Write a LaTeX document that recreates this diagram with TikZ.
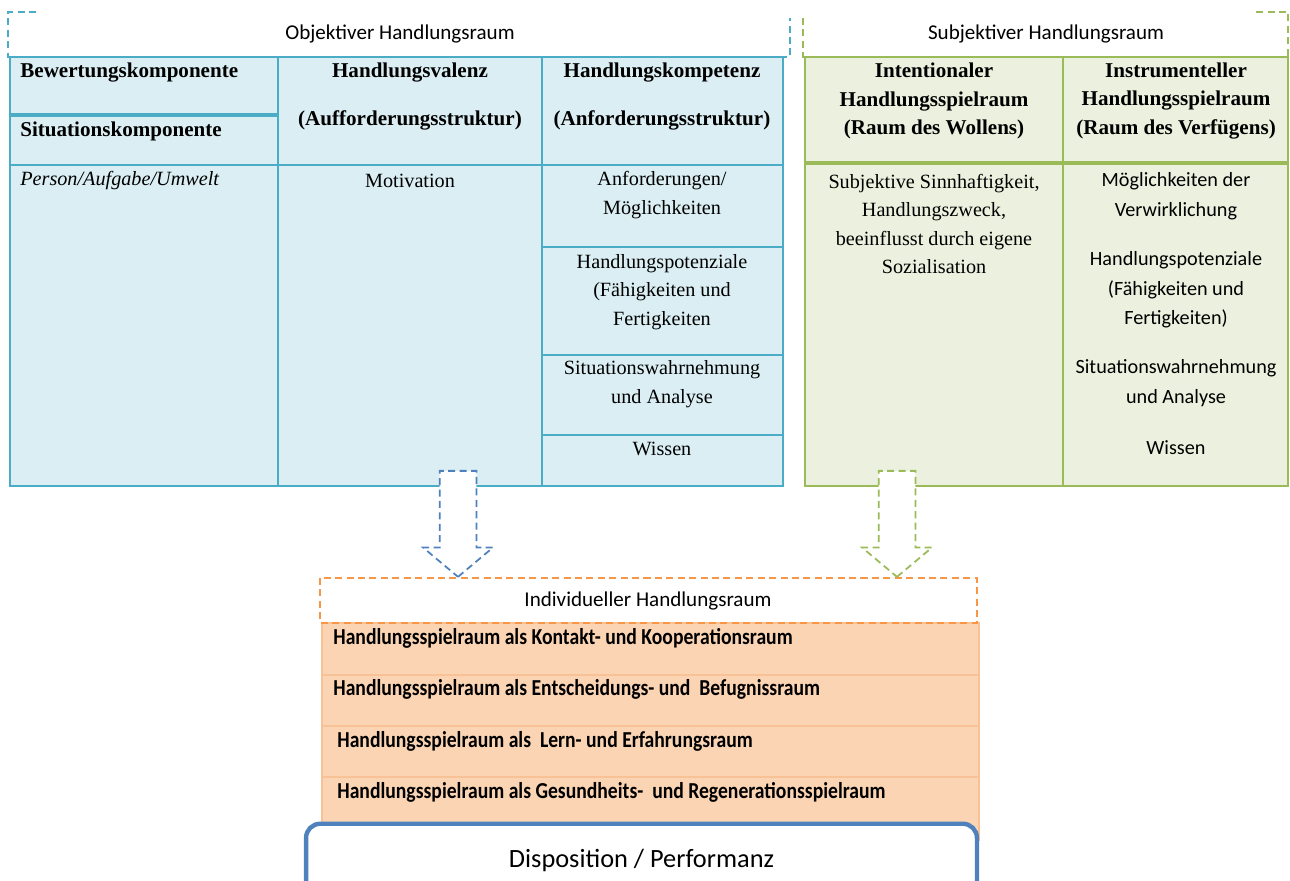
\documentclass[tikz,border=0pt]{standalone}
\usepackage{fontspec}
\setmainfont{Liberation Serif}
\newfontfamily\calfont{Carlito}
\newfontfamily\calcond[FakeStretch=0.86]{Carlito}
\usetikzlibrary{shapes.arrows}
\definecolor{objfill}{HTML}{DAEEF3}
\definecolor{objline}{HTML}{4BACC6}
\definecolor{subjfill}{HTML}{EBF1DE}
\definecolor{subjline}{HTML}{9BBB59}
\definecolor{indfill}{HTML}{FBD4B4}
\definecolor{indline}{HTML}{F79646}
\definecolor{indsep}{HTML}{F9C196}
\definecolor{arrblue}{HTML}{4F81BD}
\tikzset{
    %Define style for dashed title boxes
    dashhead/.style={
           line width=1pt,
           dash pattern=on 4pt off 2.5pt},
    %Define styles for texts
    headtxt/.style={
           font=\bfseries\fontsize{12}{16.2}\selectfont,
           align=center,
           inner sep=0pt},
    bodytxt/.style={
           font=\fontsize{11.5}{16.2}\selectfont,
           align=center,
           inner sep=0pt},
    caltxt/.style={
           font=\calfont\fontsize{11.5}{16.8}\selectfont,
           align=center,
           inner sep=0pt},
    titletxt/.style={
           font=\calfont\fontsize{12}{14}\selectfont,
           inner sep=0pt},
    rowtxt/.style={
           font=\calcond\bfseries\fontsize{13}{15}\selectfont,
           anchor=west,
           inner sep=0pt},
    % Define arrow style
    blockarrow/.style={
           single arrow,
           draw, fill=white,
           line width=1pt,
           dash pattern=on 4pt off 2.5pt,
           rotate=-90,
           minimum height=2.12cm,
           inner sep=0.35cm,
           single arrow head extend=0.33cm,
           single arrow tip angle=100,
           anchor=tip}
}
\begin{document}
\begin{tikzpicture}[x=0.02cm,y=-0.02cm]
\useasboundingbox (0,0) rectangle (1290,881);

% objective space
\fill[objfill] (10,57) rectangle (783,486);
\draw[objline, line width=0.8pt] (10,57) rectangle (783,486)
    (278,57) -- (278,486) (542,57) -- (542,486)
    (10,165) -- (783,165)
    (542,247) -- (783,247) (542,355) -- (783,355) (542,435) -- (783,435);
\draw[objline, line width=2pt] (10,115) -- (278,115);
\draw[objline, dashhead] (36,12) -- (8,12) -- (8,57) -- (790,57) -- (790,18);
\node[titletxt] (objtitle) at (400,34) {Objektiver Handlungsraum};

\node[headtxt, anchor=west] (bewert) at (20,73) {Bewertungskomponente};
\node[headtxt, anchor=west] (situat) at (20,131) {Situationskomponente};
\node[headtxt] (valenz) at (410,73) {Handlungsvalenz};
\node[headtxt] (aufford) at (410,120) {(Aufforderungsstruktur)};
\node[headtxt] (kompet) at (662,73) {Handlungskompetenz};
\node[headtxt] (anford) at (662,120) {(Anforderungsstruktur)};

\node[bodytxt, anchor=west, font=\itshape\fontsize{11.5}{16.2}\selectfont] (person) at (20,181) {Person/Aufgabe/Umwelt};
\node[bodytxt] (motiv) at (410,181) {Motivation};
\node[bodytxt] (moegl) at (662,195) {Anforderungen/\\Möglichkeiten};
\node[bodytxt] (potenz) at (662,292) {Handlungspotenziale\\(Fähigkeiten und\\Fertigkeiten};
\node[bodytxt] (wahrn) at (662,384) {Situationswahrnehmung\\und Analyse};
\node[bodytxt] (wissen) at (662,449) {Wissen};

% subjective space
\fill[subjfill] (805,57) rectangle (1288,486);
\draw[subjline, line width=0.8pt] (805,57) rectangle (1288,486)
    (1063,57) -- (1063,486);
\draw[subjline, line width=2pt] (805,163) -- (1288,163);
\draw[subjline, dashhead] (803,18) -- (803,57) -- (1288,57) -- (1288,12) -- (1256,12);
\node[titletxt] (subjtitle) at (1046,34) {Subjektiver Handlungsraum};

\node[headtxt] (intent) at (934,101) {Intentionaler\\Handlungsspielraum\\(Raum des Wollens)};
\node[headtxt] (instr) at (1176,101) {Instrumenteller\\Handlungsspielraum\\(Raum des Verfügens)};

\node[bodytxt] (sinn) at (934,224) {Subjektive Sinnhaftigkeit,\\Handlungszweck,\\beeinflusst durch eigene\\Sozialisation};
\node[caltxt] (verwirkl) at (1176,196) {Möglichkeiten der\\Verwirklichung};
\node[caltxt] (potenz2) at (1176,290) {Handlungspotenziale\\(Fähigkeiten und\\Fertigkeiten)};
\node[caltxt] (wahrn2) at (1176,383) {Situationswahrnehmung\\und Analyse};
\node[caltxt] (wissen2) at (1176,448) {Wissen};

% individual space
\fill[indfill] (322,623) rectangle (979,840);
\draw[indsep, line width=0.8pt] (322,623) rectangle (979,840)
    (322,675) -- (979,675) (322,726) -- (979,726) (322,777) -- (979,777);
\draw[indline, dashhead] (320,578) rectangle (977,623);
\node[titletxt] (indtitle) at (648,601) {Individueller Handlungsraum};

\node[rowtxt] (kontakt) at (333,638) {Handlungsspielraum als Kontakt- und Kooperationsraum};
\node[rowtxt] (entsch) at (333,689) {Handlungsspielraum als Entscheidungs- und\ \ Befugnissraum};
\node[rowtxt] (lernen) at (337,741) {Handlungsspielraum als\ \ Lern- und Erfahrungsraum};
\node[rowtxt] (gesund) at (337,792) {Handlungsspielraum als Gesundheits-\ \ und Regenerationsspielraum};

% arrows
\node[blockarrow, draw=arrblue] (arrobj) at (458,578) {};
\node[blockarrow, draw=subjline] (arrsubj) at (897,578) {};

% result
\node[draw=arrblue, line width=2.5pt, fill=white, rounded corners=8pt,
      minimum width=13.42cm, minimum height=1.45cm,
      font=\calfont\fontsize{15}{18}\selectfont] (disp) at (641.5,860) {Disposition / Performanz};
\end{tikzpicture}
\end{document}
